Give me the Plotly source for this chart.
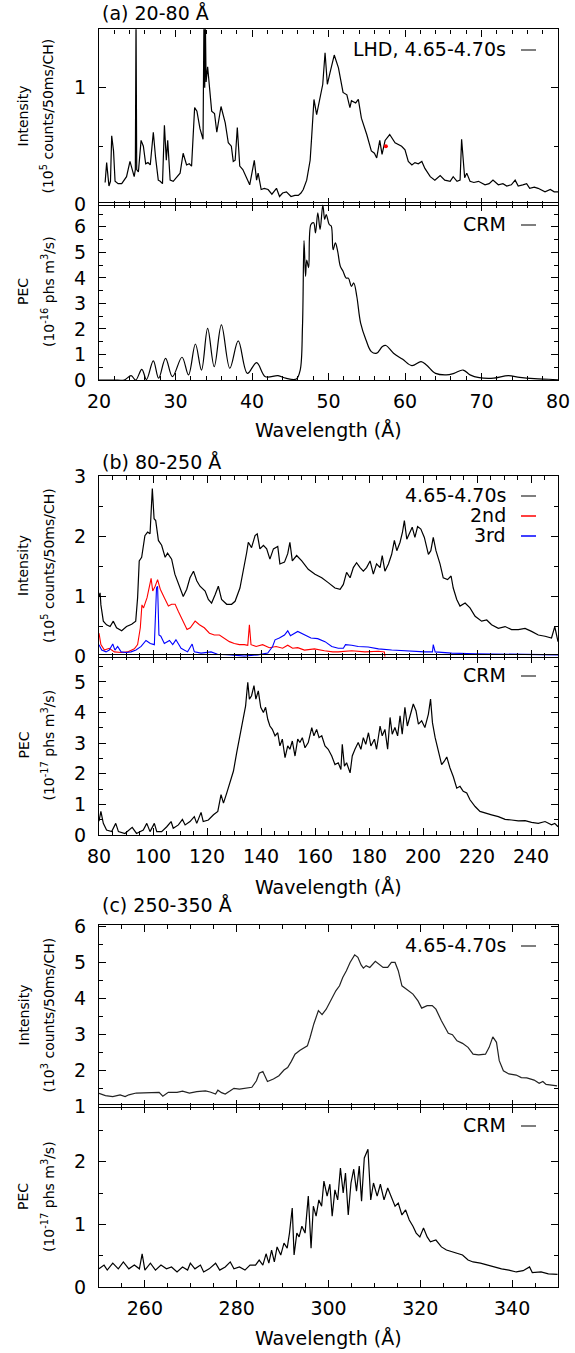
import plotly.graph_objects as go

FONT = "DejaVu Sans"
W, H = 575, 1353

# ---------------- data ----------------
# (a) 20-80 A, LHD 4.65-4.70 s  (wavelength A, intensity 1e5 counts/50ms/CH)
lhd_a = [(20.8,0.19),(21.0,0.36),(21.3,0.16),(21.5,0.2),(21.66,0.59),(21.9,0.46),(22.1,0.2),(22.5,0.18),
         (22.97,0.18),(23.3,0.21),(23.6,0.24),(24.05,0.37),(24.3,0.3),(24.6,0.24),(24.75,0.3),(24.84,1.6),
         (24.93,0.3),(25.15,0.28),(25.5,0.55),(25.8,0.5),(26.1,0.35),(26.4,0.36),(26.7,0.34),(27.1,0.62),
         (27.4,0.4),(27.75,0.21),(28.0,0.2),(28.3,0.18),(28.55,0.68),(28.8,0.38),(28.98,0.55),(29.3,0.21),
         (29.7,0.2),(30.15,0.24),(30.6,0.27),(31.0,0.44),(31.45,0.34),(31.8,0.35),(32.1,0.33),(32.5,0.83),
         (32.8,0.8),(33.2,0.65),(33.6,0.56),(33.72,1.6),(33.82,1.0),(33.9,1.6),(34.0,1.05),(34.2,1.18),
         (34.5,0.98),(34.73,0.8),(35.1,0.78),(35.4,0.62),(35.95,0.84),(36.5,0.7),(36.9,0.53),(37.3,0.5),
         (37.55,0.37),(37.8,0.38),(38.08,0.66),(38.4,0.33),(38.8,0.3),(39.1,0.26),(39.4,0.22),(39.7,0.17),
         (40.3,0.38),(40.6,0.21),(40.8,0.27),(41.2,0.13),(41.6,0.14),(42.1,0.13),(42.6,0.09),(42.9,0.12),
         (43.2,0.14),(43.6,0.07),(44.0,0.1),(44.5,0.11),(45.1,0.07),(45.6,0.08),(46.05,0.08),(46.4,0.1),
         (46.7,0.13),(47.15,0.21),(47.6,0.38),(47.8,0.58),(48.1,0.9),(48.45,0.77),(48.8,0.88),(49.25,1.03),
         (49.55,1.3),(49.85,1.03),(50.2,1.13),(50.75,1.28),(51.3,1.17),(51.9,0.96),(52.4,0.94),(52.8,0.83),
         (53.0,0.89),(53.55,0.87),(53.9,0.9),(54.3,0.74),(55.0,0.6),(55.6,0.46),(56.0,0.44),(56.3,0.4),
         (56.7,0.55),(57.0,0.43),(57.4,0.55),(58.0,0.6),(58.7,0.53),(59.2,0.51),(59.56,0.5),(60.0,0.47),
         (60.43,0.37),(60.9,0.34),(61.3,0.36),(61.74,0.35),(62.2,0.37),(62.6,0.31),(63.3,0.24),(63.9,0.21),
         (64.6,0.25),(65.2,0.21),(65.9,0.2),(66.3,0.24),(66.8,0.2),(67.2,0.21),(67.4,0.56),(67.8,0.23),
         (68.07,0.27),(68.5,0.2),(69.0,0.19),(69.6,0.2),(70.46,0.17),(71.0,0.18),(71.5,0.21),(72.2,0.17),
         (72.8,0.18),(73.3,0.16),(73.9,0.17),(74.4,0.21),(74.8,0.16),(75.4,0.17),(75.9,0.18),(76.3,0.14),
         (76.9,0.15),(77.4,0.14),(78.3,0.11),(79.0,0.13),(79.5,0.11),(80.0,0.11)]
red_dot_a = [(57.5, 0.5)]

# (a) CRM PEC (1e-16 phs m3/s)
crm_a = [(20,0),(21,0),(22,0),(23.3,0.0),(24.2,0.17),(24.8,0.0),(25.6,0.42),(26.2,0.02),(27.1,0.75),
         (27.8,0.07),(28.7,0.85),(29.6,0.13),(30.85,0.89),(31.7,0.2),(32.6,1.41),(33.4,0.39),(34.2,2.02),
         (35.06,0.52),(36.0,2.16),(37.1,0.46),(38.2,1.53),(39.4,0.26),(40.6,0.68),(41.75,0.13),(43.4,0.17),
         (44.4,0.07),(45.8,0.04),(46.3,0.39),(46.6,2.1),(46.8,5.46),(47.0,4.06),(47.15,4.7),(47.4,4.4),
         (47.7,6.09),(48.06,6.16),(48.3,5.76),(48.6,6.55),(48.9,5.9),(49.26,6.85),(49.5,6.29),(49.7,6.48),
         (50.1,6.09),(50.36,6.03),(50.6,5.1),(50.9,5.37),(51.2,5.04),(51.55,4.45),(51.9,4.26),(52.3,3.99),
         (52.6,3.99),(53.0,3.67),(53.3,3.8),(53.7,3.27),(54.2,2.23),(54.9,1.57),(55.6,1.11),(56.3,1.05),
         (57.05,1.31),(57.5,1.35),(58.5,1.05),(59.7,0.81),(60.9,0.56),(62.1,0.72),(62.8,0.59),(64.0,0.26),
         (65.4,0.2),(66.4,0.26),(67.6,0.39),(68.5,0.2),(69.7,0.09),(71.6,0.07),(73.5,0.17),(75.0,0.1),
         (76.9,0.05),(78.8,0.03),(80,0.01)]

# (b) 80-250 A, LHD 4.65-4.70 s and 2nd / 3rd order contributions
lhd_b = [(80.0,1.0),(80.4,1.06),(80.7,0.86),(81.6,0.59),(82.8,0.53),(84.1,0.5),(85.3,0.59),(86.5,0.48),
         (88.4,0.43),(90.2,0.5),(92.1,0.54),(93.6,0.59),(94.3,0.98),(94.9,1.59),(95.8,1.65),(97.0,2.01),
         (98.0,2.07),(98.9,2.04),(99.75,2.79),(100.4,2.29),(101.0,2.26),(102.0,1.93),(103.2,1.85),(104.5,1.65),
         (105.4,1.72),(106.9,1.62),(108.1,1.37),(110.0,1.12),(111.2,1.0),(112.5,1.12),(113.7,1.31),(115.0,1.42),
         (116.2,1.26),(117.4,1.17),(119.3,1.09),(120.5,0.95),(121.7,0.89),(123.0,1.03),(124.2,1.17),(125.4,0.95),
         (127.3,0.87),(129.1,0.87),(130.4,0.92),(132.2,1.14),(133.5,1.42),(134.7,1.73),(135.3,1.9),(136.5,1.81),
         (137.8,2.01),(138.6,2.04),(139.6,1.79),(140.9,1.85),(142.1,1.79),(143.3,1.62),(144.6,1.79),(146.2,1.83),
         (147.0,1.54),(148.7,1.57),(149.9,1.71),(150.7,1.9),(151.6,1.59),(153.2,1.68),(155.1,1.59),(157.5,1.45),
         (160.0,1.37),(162.5,1.31),(164.9,1.23),(167.4,1.14),(169.3,1.12),(170.5,1.2),(171.7,1.4),(173.0,1.31),
         (174.2,1.48),(175.4,1.56),(176.7,1.48),(177.9,1.42),(179.1,1.48),(180.4,1.59),(181.6,1.37),(182.8,1.54),
         (184.1,1.48),(184.9,1.68),(185.9,1.42),(187.2,1.54),(188.4,1.7),(189.4,1.93),(190.3,1.76),(191.5,1.9),
         (192.4,2.07),(193.1,2.26),(194.0,1.95),(195.2,2.07),(196.0,2.15),(197.0,1.98),(198.0,2.16),(199.2,2.12),
         (200.5,1.98),(202.0,1.7),(202.9,1.76),(203.8,1.98),(204.8,1.76),(206.3,1.54),(207.5,1.31),(209.1,1.28),
         (210.4,1.34),(211.2,1.14),(212.5,0.95),(213.7,0.84),(215.6,0.89),(217.4,0.81),(219.3,0.67),(221.7,0.59),
         (223.6,0.61),(225.4,0.53),(227.9,0.47),(230.4,0.5),(232.8,0.45),(235.3,0.45),(237.8,0.47),(240.2,0.42),
         (242.7,0.36),(245.2,0.34),(247.6,0.31),(248.8,0.5),(249.5,0.34),(250,0.25)]
second_b = [(80.0,0.39),(80.7,0.2),(82.0,0.11),(83.8,0.14),(85.7,0.08),(88.2,0.07),(90.6,0.08),(93.1,0.13),
            (94.3,0.2),(95.3,0.48),(95.9,0.86),(96.5,0.81),(97.8,0.98),(98.7,1.2),(99.3,1.3),(99.9,1.09),
            (100.8,1.17),(101.7,1.28),(102.7,1.12),(104.2,0.98),(105.7,0.84),(106.9,0.87),(108.2,0.87),
            (109.4,0.75),(111.0,0.59),(112.6,0.45),(113.8,0.48),(115.6,0.59),(117.2,0.53),(119.0,0.48),
            (120.9,0.39),(122.7,0.36),(124.6,0.36),(126.4,0.31),(128.3,0.25),(130.1,0.22),(132.0,0.2),
            (133.8,0.2),(135.1,0.19),(135.7,0.53),(136.3,0.2),(138.2,0.17),(140.6,0.2),(143.1,0.15),
            (145.6,0.17),(148.0,0.14),(149.9,0.19),(151.7,0.14),(153.6,0.15),(156.1,0.11),(159.8,0.13),
            (163.5,0.1),(166.6,0.08),(168.6,0.08),(173.6,0.1),(178.5,0.08),(183.5,0.09),(185.7,0.08),(185.9,0.0)]
third_b = [(80.0,0.2),(81.0,0.11),(82.6,0.08),(83.8,0.11),(85.1,0.21),(85.9,0.11),(86.9,0.17),(88.2,0.08),
           (90.0,0.07),(91.9,0.08),(93.7,0.11),(95.6,0.17),(97.4,0.27),(99.0,0.22),(100.5,0.2),(101.3,1.14),
           (101.7,1.17),(102.2,0.36),(102.9,0.34),(104.2,0.22),(106.1,0.27),(107.3,0.2),(108.5,0.28),
           (110.4,0.14),(112.8,0.08),(114.5,0.21),(115.3,0.08),(117.8,0.06),(121.5,0.08),(123.9,0.04),
           (128.9,0.03),(133.8,0.01),(138.8,0.03),(142.5,0.06),(144.3,0.17),(145.2,0.28),(146.8,0.31),
           (148.7,0.36),(149.9,0.43),(150.9,0.35),(153.6,0.42),(156.1,0.36),(158.5,0.31),(161.0,0.3),
           (163.7,0.25),(166.2,0.17),(168.6,0.14),(170.5,0.14),(171.3,0.2),(173.6,0.19),(176.0,0.17),
           (179.7,0.16),(183.5,0.13),(188.4,0.11),(194.6,0.09),(200.7,0.08),(203.5,0.08),(203.8,0.2),
           (204.5,0.08),(210.6,0.06),(219.3,0.05),(231.6,0.04),(244.0,0.03),(250,0.03)]

# (b) CRM PEC (1e-17 phs m3/s)
crm_b = [(80.0,0.45),(80.7,0.77),(81.6,0.38),(82.8,0.16),(84.7,0.11),(86.2,0.38),(87.2,0.11),(89.6,0.05),
         (92.3,0.25),(93.9,0.05),(96.4,0.16),(97.7,0.38),(98.9,0.11),(100.5,0.38),(101.4,0.11),(103.2,0.11),
         (105.1,0.27),(106.7,0.44),(107.5,0.22),(109.4,0.33),(110.9,0.51),(111.9,0.33),(113.7,0.44),(115.3,0.6),
         (116.2,0.38),(117.8,0.74),(118.6,0.44),(120.5,0.49),(122.4,0.66),(124.0,0.77),(125.2,1.32),(126.1,1.04),
         (127.3,1.37),(128.5,1.7),(129.8,2.09),(131.0,2.69),(132.2,3.24),(133.5,3.95),(134.3,4.22),(135.1,4.99),
         (135.7,4.44),(136.5,4.55),(137.4,4.88),(138.1,4.44),(139.0,4.71),(139.9,4.17),(140.9,4.0),(141.7,4.17),
         (142.5,3.78),(143.3,3.56),(144.2,3.45),(145.2,3.24),(146.2,3.34),(147.0,2.91),(147.9,3.13),(148.9,2.53),
         (149.9,2.91),(150.7,2.8),(151.6,3.07),(152.6,2.58),(153.6,3.13),(154.4,3.02),(155.3,3.18),(156.3,2.85),
         (157.5,3.02),(158.8,3.51),(159.6,3.24),(160.6,3.45),(161.5,3.18),(162.5,3.24),(163.7,2.91),(164.9,2.8),
         (166.2,2.58),(167.4,2.3),(168.6,2.36),(169.6,2.14),(170.1,2.96),(170.9,2.25),(171.7,2.36),(173.0,2.03),
         (173.8,2.58),(174.8,2.8),(176.0,3.02),(177.0,2.8),(177.9,3.18),(178.8,2.96),(179.8,3.34),(180.7,2.91),
         (182.0,3.13),(182.8,2.8),(184.1,3.56),(184.9,3.24),(185.9,3.45),(186.9,2.8),(187.8,3.84),(188.6,3.29),
         (189.6,3.51),(190.6,3.24),(191.5,3.89),(192.3,3.29),(193.3,4.17),(194.2,3.56),(195.2,3.89),(196.4,4.28),
         (197.4,4.06),(198.3,3.62),(199.5,3.73),(200.7,3.51),(202.0,3.95),(202.8,4.44),(203.5,3.67),(204.5,3.18),
         (205.7,2.74),(206.9,2.3),(207.9,2.41),(208.8,2.55),(210.0,2.19),(211.2,1.91),(212.5,1.53),(213.7,1.59),
         (214.9,1.43),(216.2,1.37),(217.4,1.15),(219.3,0.93),(221.1,0.77),(223.0,0.71),(225.4,0.66),(227.9,0.6),
         (230.4,0.51),(232.8,0.49),(235.3,0.46),(237.8,0.47),(240.2,0.41),(242.7,0.38),(245.2,0.44),(247.6,0.33),
         (248.8,0.38),(250,0.27)]

# (c) 250-350 A, LHD 4.65-4.70 s (1e3 counts/50ms/CH)
lhd_c = [(250.0,1.37),(251.4,1.31),(253.0,1.28),(254.6,1.33),(255.7,1.28),(256.5,1.33),(258.1,1.38),
         (259.6,1.38),(262.3,1.38),(263.1,1.4),(263.9,1.29),(265.1,1.4),(267.0,1.4),(268.2,1.43),(269.7,1.38),
         (271.3,1.42),(273.2,1.44),(274.2,1.41),(275.4,1.35),(275.9,1.46),(276.7,1.39),(277.5,1.35),(278.6,1.44),
         (279.4,1.51),(280.6,1.49),(281.8,1.52),(283.3,1.54),(284.3,1.72),(284.9,1.93),(285.7,1.98),(286.7,1.7),
         (288.0,1.77),(289.2,1.86),(290.3,2.02),(291.1,2.09),(291.9,2.26),(292.7,2.46),(293.8,2.57),(295.4,2.69),
         (296.0,2.93),(296.8,3.3),(297.8,3.67),(298.6,3.56),(299.5,3.71),(300.4,3.94),(301.6,4.22),(302.4,4.36),
         (303.1,4.59),(303.9,4.78),(304.7,5.01),(305.7,5.22),(306.4,5.15),(307.1,4.94),(307.6,4.85),(308.2,4.92),
         (309.0,4.87),(310.2,5.04),(310.9,4.98),(311.9,4.87),(312.9,4.87),(313.7,5.01),(314.5,5.01),(315.2,4.78),
         (316.0,4.36),(317.2,4.24),(318.4,4.13),(319.5,3.94),(320.3,3.74),(321.5,3.81),(322.6,3.81),(323.4,3.71),
         (324.6,3.39),(326.1,3.04),(327.0,3.0),(328.0,2.83),(329.2,2.76),(330.4,2.65),(331.5,2.46),(332.7,2.44),
         (334.2,2.46),(335.0,2.65),(335.8,2.94),(336.6,2.79),(337.2,2.28),(338.1,2.0),(339.3,1.91),(340.9,1.88),
         (342.0,1.81),(343.2,1.8),(344.8,1.74),(345.9,1.65),(346.7,1.7),(347.4,1.62),(348.6,1.6),(349.8,1.58)]

# (c) CRM PEC (1e-17 phs m3/s)
crm_c = [(250.0,0.29),(251.1,0.35),(251.8,0.27),(253.0,0.38),(254.2,0.29),(255.3,0.4),(256.5,0.29),
         (257.7,0.35),(258.8,0.29),(259.4,0.53),(260.0,0.27),(261.2,0.38),(262.3,0.27),(263.5,0.35),
         (264.7,0.29),(265.8,0.32),(267.0,0.24),(268.2,0.32),(269.3,0.27),(269.9,0.38),(270.9,0.29),
         (272.1,0.35),(272.8,0.24),(274.0,0.29),(275.4,0.38),(276.3,0.27),(277.5,0.32),(278.6,0.4),
         (279.4,0.29),(280.6,0.32),(281.8,0.27),(282.9,0.35),(284.1,0.35),(284.9,0.43),(285.7,0.35),
         (286.4,0.53),(287.0,0.38),(287.6,0.59),(288.2,0.4),(288.8,0.64),(289.6,0.51),(290.3,0.7),(291.0,0.62),
         (291.5,0.86),(292.1,1.26),(292.5,0.51),(293.1,0.86),(293.6,0.8),(294.2,0.97),(294.9,0.86),(295.6,1.45),
         (296.2,0.62),(296.7,1.29),(297.3,1.13),(297.9,1.39),(298.5,1.29),(299.0,1.69),(299.7,1.45),(300.3,1.64),
         (300.8,1.13),(301.4,1.55),(302.0,1.39),(302.6,1.9),(303.2,1.5),(303.7,1.82),(304.3,1.15),(304.9,1.66),
         (305.5,1.88),(306.1,1.53),(306.7,1.93),(307.2,1.37),(307.8,2.06),(308.6,2.2),(309.2,1.39),(309.8,1.66),
         (310.6,1.45),(311.3,1.64),(312.1,1.39),(312.9,1.58),(313.7,1.42),(314.5,1.29),(315.2,1.34),(316.0,1.15),
         (316.8,1.23),(317.6,1.07),(318.4,0.97),(319.1,0.86),(319.9,0.8),(320.7,0.94),(321.5,0.8),(322.2,0.72),
         (323.4,0.75),(324.6,0.64),(325.7,0.59),(326.9,0.56),(328.0,0.53),(329.2,0.51),(330.4,0.43),(331.5,0.4),
         (333.1,0.38),(334.6,0.35),(336.2,0.32),(337.7,0.29),(339.3,0.27),(340.9,0.24),(342.4,0.26),(343.8,0.32),
         (344.4,0.23),(346.3,0.24),(347.9,0.21),(349.9,0.2)]

# ---------------- layout helpers (pixel -> paper) ----------------
def px(x):
    return x / W

def py(y):
    return 1 - y / H

XDOM = [px(99), px(558)]
LW = 1.4  # axis line width; shared panel edges overlap by one line width
panels = [  # (top px, bottom px, y range, x range, x dtick, x minor)
    (29.3, 204 + LW / 2, [0, 1.5], [20, 80], 10, 2),
    (204 - LW / 2, 380, [0, 6.92], [20, 80], 10, 2),
    (476, 656 + LW / 2, [0, 3], [80, 250], 20, 5),
    (656 - LW / 2, 835, [0, 5.87], [80, 250], 20, 5),
    (925, 1106 + LW / 2, [1, 6.05], [250, 350], 20, 5),
    (1106 - LW / 2, 1287, [0, 2.9], [250, 350], 20, 5),
]

fig = go.Figure()

def unzip(pairs):
    return [p[0] for p in pairs], [p[1] for p in pairs]

def add_line(pairs, k, color, width=1.2, shape="linear"):
    xs, ys = unzip(pairs)
    sfx = "" if k == 1 else str(k)
    fig.add_trace(go.Scatter(x=xs, y=ys, mode="lines", xaxis="x" + sfx, yaxis="y" + sfx,
                             line=dict(color=color, width=width, shape=shape), showlegend=False,
                             hoverinfo="skip"))

add_line(lhd_a, 1, "black")
xs, ys = unzip(red_dot_a)
fig.add_trace(go.Scatter(x=xs, y=ys, mode="markers", marker=dict(color="red", size=4),
                         xaxis="x", yaxis="y", showlegend=False))
add_line(crm_a, 2, "black", shape="spline")
add_line(lhd_b, 3, "black")
add_line(second_b, 3, "#ff0000", width=1.1)
add_line(third_b, 3, "#0000ff", width=1.1)
add_line(crm_b, 4, "black")
add_line(lhd_c, 5, "#222222")
add_line(crm_c, 6, "black")

layout = dict(template="none", width=W, height=H,
              margin=dict(l=0, r=0, t=0, b=0, pad=0, autoexpand=False),
              paper_bgcolor="white", plot_bgcolor="rgba(0,0,0,0)",
              font=dict(family=FONT, size=19, color="black"), showlegend=False)

for i, (top, bot, yr, xr, xd, xm) in enumerate(panels, start=1):
    sfx = "" if i == 1 else str(i)
    common = dict(showline=True, linecolor="black", linewidth=LW, mirror="allticks",
                  ticks="inside", ticklen=7, tickwidth=1.2, tickcolor="black",
                  showgrid=False, zeroline=False, automargin=False,
                  tickfont=dict(family=FONT, size=19, color="black"))
    layout["xaxis" + sfx] = dict(common, domain=XDOM, range=xr, dtick=xd, tick0=0,
                                 anchor="y" + sfx, showticklabels=(i % 2 == 0),
                                 ticklabelstandoff=4,
                                 minor=dict(ticks="inside", ticklen=4, tickcolor="black",
                                            tickwidth=1, dtick=xm, showgrid=False))
    layout["yaxis" + sfx] = dict(common, domain=[py(bot), py(top)], range=yr, dtick=1, tick0=0,
                                 anchor="x" + sfx, ticklabelstandoff=8,
                                 minor=dict(ticks="inside", ticklen=4, tickcolor="black",
                                            tickwidth=1, dtick=0.5, showgrid=False))

ann = []
def text(s, x, y, size=19, xanchor="center", angle=0, height=None):
    a = dict(text=s, x=px(x), y=py(y), xref="paper", yref="paper", showarrow=False,
             xanchor=xanchor, yanchor="middle", textangle=angle,
             font=dict(family=FONT, size=size, color="black"))
    if height:
        a["height"] = height
    ann.append(a)

# panel titles
text("(a) 20-80 Å", 100, 13, xanchor="left")
text("(b) 80-250 Å", 100, 462, xanchor="left")
text("(c) 250-350 Å", 100, 905, xanchor="left")
# x-axis titles
for yy in (430, 887, 1338):
    text("Wavelength (Å)", 328, yy)
# y-axis titles (two lines each)
ytitles = [
    (116.5, "Intensity", "(10<sup>5</sup> counts/50ms/CH)"),
    (292, "PEC", "(10<sup>-16</sup> phs m<sup>3</sup>/s)"),
    (566, "Intensity", "(10<sup>5</sup> counts/50ms/CH)"),
    (745.5, "PEC", "(10<sup>-17</sup> phs m<sup>3</sup>/s)"),
    (1015.5, "Intensity", "(10<sup>3</sup> counts/50ms/CH)"),
    (1197, "PEC", "(10<sup>-17</sup> phs m<sup>3</sup>/s)"),
]
for yc, l1, l2 in ytitles:
    text(l1, 23, yc, size=14, angle=-90)
    text(l2, 48, yc, size=14, angle=-90)

# legends (text then sample line)
legends = [
    (49, "LHD, 4.65-4.70s", "#555555"),
    (224, "CRM", "#555555"),
    (495, "4.65-4.70s", "#555555"),
    (515, "2nd", "#ff0000"),
    (535, "3rd", "#0000ff"),
    (675, "CRM", "#555555"),
    (945, "4.65-4.70s", "#555555"),
    (1125, "CRM", "#555555"),
]
shapes = []
for yy, s, c in legends:
    text(s, 508, yy, xanchor="right", height=20)
    shapes.append(dict(type="line", xref="paper", yref="paper", x0=px(521), x1=px(536),
                       y0=py(yy + 1), y1=py(yy + 1), line=dict(color=c, width=1.5)))

layout["annotations"] = ann
layout["shapes"] = shapes
fig.update_layout(**layout)
fig.write_html("out.html")
